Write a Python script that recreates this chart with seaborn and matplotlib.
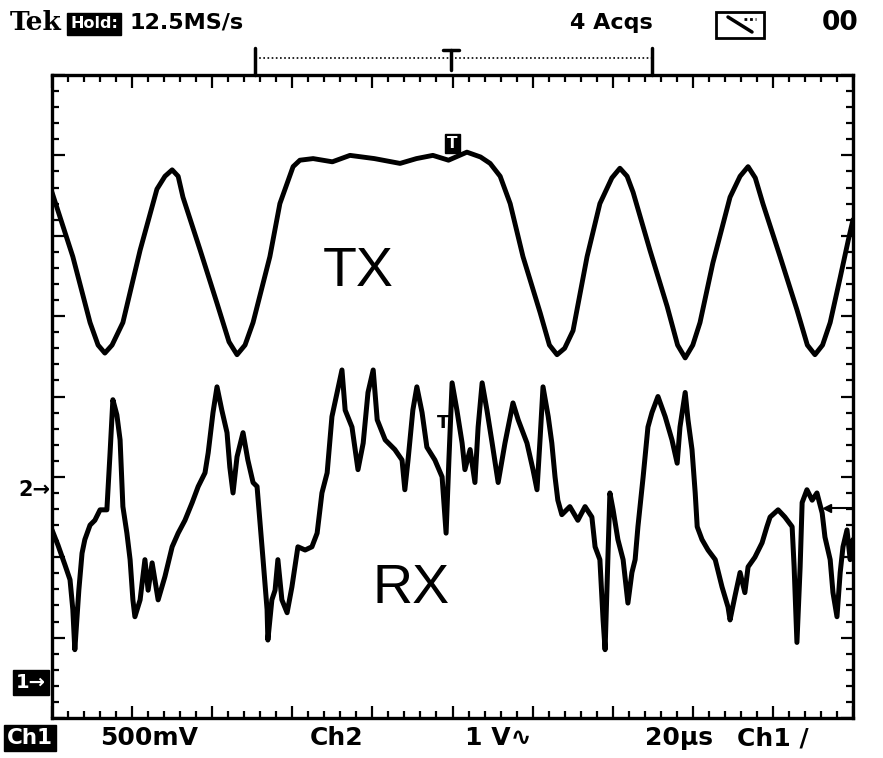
import numpy as np
import pandas as pd
import matplotlib
matplotlib.use("Agg")
import matplotlib.pyplot as plt
import seaborn as sns
from matplotlib.ticker import MultipleLocator
from matplotlib.patches import Rectangle
from matplotlib.lines import Line2D

# ---------------- data ----------------
# Ch1 (TX): time in microseconds, amplitude in volts
tx_time_us = [0.0, 5.2, 9.5, 11.5, 13.2, 15.0, 17.7, 22.0, 26.2, 28.2, 30.0, 31.5, 32.7,
              37.0, 41.2, 44.2, 46.2, 48.2, 50.2, 54.4, 56.9, 60.2, 61.9, 65.2, 70.0,
              74.4, 80.5, 86.9, 91.0, 95.1, 99.0, 103.6, 107.0, 109.4, 111.9, 114.4,
              117.6, 121.9, 124.2, 126.1, 128.0, 130.1, 133.6, 136.8, 139.8, 141.8,
              143.6, 145.1, 149.3, 153.6, 156.2, 158.1, 160.0, 161.8, 165.0, 169.3,
              171.8, 173.8, 175.6, 177.5, 181.8, 186.0, 188.6, 190.5, 192.4, 194.3,
              196.8, 198.8, 200.0]
tx_volts = [3.05, 2.65, 2.24, 2.10, 2.05, 2.10, 2.24, 2.69, 3.07, 3.15, 3.19, 3.15, 3.02,
            2.69, 2.36, 2.12, 2.04, 2.10, 2.24, 2.65, 2.98, 3.21, 3.25, 3.26, 3.24,
            3.28, 3.26, 3.23, 3.26, 3.28, 3.25, 3.30, 3.27, 3.23, 3.15, 2.98,
            2.65, 2.30, 2.10, 2.04, 2.08, 2.19, 2.65, 2.98, 3.14, 3.20,
            3.15, 3.05, 2.69, 2.34, 2.10, 2.02, 2.10, 2.24, 2.61, 3.02,
            3.15, 3.21, 3.14, 2.98, 2.65, 2.32, 2.10, 2.04, 2.10, 2.24,
            2.52, 2.75, 2.88]

# Ch2 (RX): time in microseconds, amplitude in volts
rx_time_us = [0.0, 1.5, 3.2, 4.5, 5.2, 5.7, 6.2, 6.7, 7.5, 8.2, 9.5, 10.7, 12.0, 13.7,
              14.5, 15.2, 16.2, 17.0, 17.7, 18.7, 19.5, 20.2, 20.7, 22.0, 23.2, 24.0,
              25.0, 26.5, 28.2, 30.0, 31.5, 33.2, 35.0, 36.5, 38.2, 39.0, 40.2, 41.2,
              42.4, 43.7, 44.4, 45.2, 46.2, 47.7, 48.9, 50.2, 51.2, 51.9, 52.7, 53.7,
              53.9, 54.9, 55.7, 56.4, 57.4, 58.7, 59.9, 61.4, 63.2, 64.9, 66.2, 67.4,
              68.7, 69.9, 71.2, 72.4, 73.2, 74.9, 76.4, 77.7, 78.9, 80.2, 81.2, 83.2,
              85.6, 87.4, 88.1, 88.9, 90.1, 91.1, 92.4, 93.6, 95.6, 97.4, 98.4, 99.1,
              99.9, 101.1, 102.4, 103.1, 104.4, 105.6, 106.4, 107.4, 108.6, 109.9,
              111.4, 113.1, 115.1, 116.4, 118.6, 120.1, 121.1, 121.9, 122.6, 123.9,
              124.8, 125.6, 126.3, 127.3, 129.3, 131.3, 133.1, 134.8, 135.6, 136.8,
              137.6, 138.1, 138.8, 139.3, 140.1, 141.3, 142.6, 143.8, 144.8, 145.6,
              146.3, 147.6, 148.8, 149.8, 151.3, 153.1, 154.8, 156.1, 156.8, 158.1,
              158.8, 159.8, 160.6, 161.1, 162.3, 163.8, 165.6, 167.3, 168.8, 169.3,
              170.5, 171.8, 173.0, 173.8, 175.5, 177.3, 178.5, 179.3, 181.3, 183.0,
              184.8, 185.3, 186.0, 186.8, 187.3, 188.5, 189.8, 191.0, 192.3, 193.0,
              194.3, 195.0, 196.0, 196.8, 197.5, 198.5, 199.3, 200.0]
rx_volts = [-0.50, -0.69, -0.93, -1.12, -1.49, -1.99, -1.62, -1.25, -0.79, -0.62, -0.44,
            -0.38, -0.25, -0.25, 0.46, 1.12, 0.93, 0.62, -0.21, -0.54, -0.87, -1.37,
            -1.58, -1.37, -0.87, -1.25, -0.91, -1.37, -1.08, -0.71, -0.54, -0.38,
            -0.16, 0.04, 0.21, 0.46, 0.96, 1.28, 0.99, 0.71, 0.28, -0.04, 0.41, 0.71,
            0.37, 0.09, 0.04, -0.38, -0.87, -1.49, -1.87, -1.37, -1.25, -0.87, -1.37,
            -1.53, -1.21, -0.71, -0.75, -0.71, -0.54, -0.04, 0.21, 0.91, 1.21, 1.49,
            0.99, 0.78, 0.25, 0.58, 1.21, 1.49, 0.87, 0.62, 0.50, 0.37, 0.00, 0.37,
            0.99, 1.28, 0.96, 0.53, 0.37, 0.16, -0.54, 0.37, 1.33, 0.99, 0.58, 0.25,
            0.50, 0.09, 0.78, 1.33, 0.99, 0.58, 0.09, 0.58, 1.08, 0.87, 0.58, 0.25,
            0.00, 0.66, 1.28, 0.91, 0.58, 0.16, -0.13, -0.31, -0.21, -0.38, -0.21,
            -0.34, -0.71, -0.87, -1.62, -1.99, -0.87, -0.04, -0.25, -0.62, -0.87,
            -1.41, -1.03, -0.87, -0.46, 0.16, 0.78, 0.96, 1.16, 0.91, 0.62, 0.33,
            0.78, 1.21, 0.87, 0.50, -0.04, -0.46, -0.62, -0.75, -0.87, -1.21, -1.46,
            -1.62, -1.33, -1.03, -1.28, -0.96, -0.84, -0.66, -0.46, -0.34, -0.25,
            -0.34, -0.46, -0.96, -1.90, -0.96, -0.16, 0.00, -0.13, -0.04, -0.29,
            -0.59, -0.87, -1.28, -1.58, -1.03, -0.71, -0.50, -0.87, -0.62]

# scope settings shown on screen
US_PER_DIV = 20
CH1_VOLTS_PER_DIV = 0.5
CH2_VOLTS_PER_DIV = 1.0
CH1_GROUND_DIV = -3.56
CH2_GROUND_DIV = -1.16
CH2_TRIG_LEVEL_DIV = -1.39
TRIG_TIME_US = 100

top_labels = ["12.5MS/s", "4 Acqs", "00"]
bottom_labels = ["500mV", "Ch2", "1 V\u223f", "20\u00b5s", "Ch1 /"]

# ---------------- build frames ----------------
df_tx = pd.DataFrame({"t": tx_time_us,
                      "div": np.array(tx_volts) / CH1_VOLTS_PER_DIV + CH1_GROUND_DIV})
df_rx = pd.DataFrame({"t": rx_time_us,
                      "div": np.array(rx_volts) / CH2_VOLTS_PER_DIV + CH2_GROUND_DIV})

sns.set_theme(style="white")
plt.rcParams['font.family'] = ['DejaVu Sans']

W, H = 883, 758
fig = plt.figure(figsize=(W / 100, H / 100), dpi=100)
fig.patch.set_facecolor("white")
ax = fig.add_axes([52 / W, 1 - 718 / H, 801 / W, 643 / H])
ax.set_facecolor("white")

sns.lineplot(data=df_tx, x="t", y="div", color="black", lw=3.5,
             estimator=None, sort=False, ax=ax)
sns.lineplot(data=df_rx, x="t", y="div", color="black", lw=3.6,
             estimator=None, sort=False, ax=ax)

ax.set_xlim(0, 10 * US_PER_DIV)
ax.set_ylim(-4, 4)
ax.xaxis.set_major_locator(MultipleLocator(US_PER_DIV))
ax.xaxis.set_minor_locator(MultipleLocator(US_PER_DIV / 5))
ax.yaxis.set_major_locator(MultipleLocator(1))
ax.yaxis.set_minor_locator(MultipleLocator(0.2))
ax.tick_params(which="both", direction="in", top=True, right=True, bottom=True,
               left=True, labelbottom=False, labelleft=False, color="black", width=1.6)
ax.tick_params(which="major", length=9)
ax.tick_params(which="minor", length=5)
ax.set_xlabel("")
ax.set_ylabel("")
for s in ax.spines.values():
    s.set_visible(True)
    s.set_color("black")
    s.set_linewidth(2.4)

# trace labels
ax.text(76.4, 1.55, "TX", fontsize=40, family=["Liberation Sans", "DejaVu Sans"],
        ha="center", va="center", color="black")
ax.text(89.6, -2.40, "RX", fontsize=40, family=["Liberation Sans", "DejaVu Sans"],
        ha="center", va="center", color="black")

# trigger markers
ax.text(TRIG_TIME_US, 3.15, "T", fontsize=11, fontweight="bold", color="white",
        ha="center", va="center",
        bbox=dict(boxstyle="square,pad=0.15", facecolor="black", edgecolor="black"))
ax.text(97.6, -0.33, "T", fontsize=13, fontweight="bold", color="black",
        ha="center", va="center")
ax.plot([193.5, 200], [CH2_TRIG_LEVEL_DIV, CH2_TRIG_LEVEL_DIV], color="black", lw=1.5)
ax.plot([193.5], [CH2_TRIG_LEVEL_DIV], marker="<", color="black", markersize=6)

# ground markers
ax.text(-0.5, CH2_GROUND_DIV, "2\u2192", fontsize=15, fontweight="bold", color="black",
        ha="right", va="center", clip_on=False)
ax.text(-1.5, CH1_GROUND_DIV, "1\u2192", fontsize=14, fontweight="bold",
        color="white", ha="right", va="center", clip_on=False,
        bbox=dict(boxstyle="square,pad=0.15", facecolor="black", edgecolor="black"))

# ---------------- header ----------------
def fx(x):
    return x / W


def fy(y):
    return 1 - y / H


fig.text(fx(10), fy(23), "Tek", fontsize=19, fontweight="bold",
         family=["DejaVu Serif"], ha="left", va="center", color="black")
fig.text(fx(70), fy(24), "Hold:", fontsize=11.5, fontweight="bold", color="white",
         ha="left", va="center",
         bbox=dict(boxstyle="square,pad=0.2", facecolor="black", edgecolor="black"))
fig.text(fx(130), fy(23), top_labels[0], fontsize=16, fontweight="bold",
         ha="left", va="center", color="black")
fig.text(fx(570), fy(23), top_labels[1], fontsize=16, fontweight="bold",
         ha="left", va="center", color="black")
fig.text(fx(822), fy(23), top_labels[2], fontsize=19, fontweight="bold",
         ha="left", va="center", color="black")

# trigger status icon
fig.add_artist(Rectangle((fx(716), fy(38)), fx(48), 26 / H, transform=fig.transFigure,
                         facecolor="white", edgecolor="black", lw=2))
fig.add_artist(Line2D([fx(728), fx(752)], [fy(17), fy(32)], transform=fig.transFigure,
                      color="black", lw=2.5))
fig.add_artist(Line2D([fx(744), fx(756)], [fy(19), fy(19)], transform=fig.transFigure,
                      color="black", lw=2, ls=(0, (1, 1))))

# record window bracket
for xb in (255, 652):
    fig.add_artist(Line2D([fx(xb), fx(xb)], [fy(48), fy(75)], transform=fig.transFigure,
                          color="black", lw=2.5))
fig.add_artist(Line2D([fx(255), fx(652)], [fy(58), fy(58)], transform=fig.transFigure,
                      color="black", lw=1.2, ls=(0, (1, 1.5))))
fig.add_artist(Line2D([fx(443), fx(459)], [fy(50), fy(50)], transform=fig.transFigure,
                      color="black", lw=2.5))
fig.add_artist(Line2D([fx(451), fx(451)], [fy(50), fy(70)], transform=fig.transFigure,
                      color="black", lw=2.5))

# ---------------- footer ----------------
fig.text(fx(7), fy(738), "Ch1", fontsize=15.5, fontweight="bold", color="white",
         ha="left", va="center",
         bbox=dict(boxstyle="square,pad=0.15", facecolor="black", edgecolor="black"))
foot_x = [100, 310, 465, 645, 737]
for xl, lab in zip(foot_x, bottom_labels):
    fig.text(fx(xl), fy(738), lab, fontsize=18, fontweight="bold", color="black",
             ha="left", va="center")

fig.savefig("out.png", dpi=100, facecolor="white")
